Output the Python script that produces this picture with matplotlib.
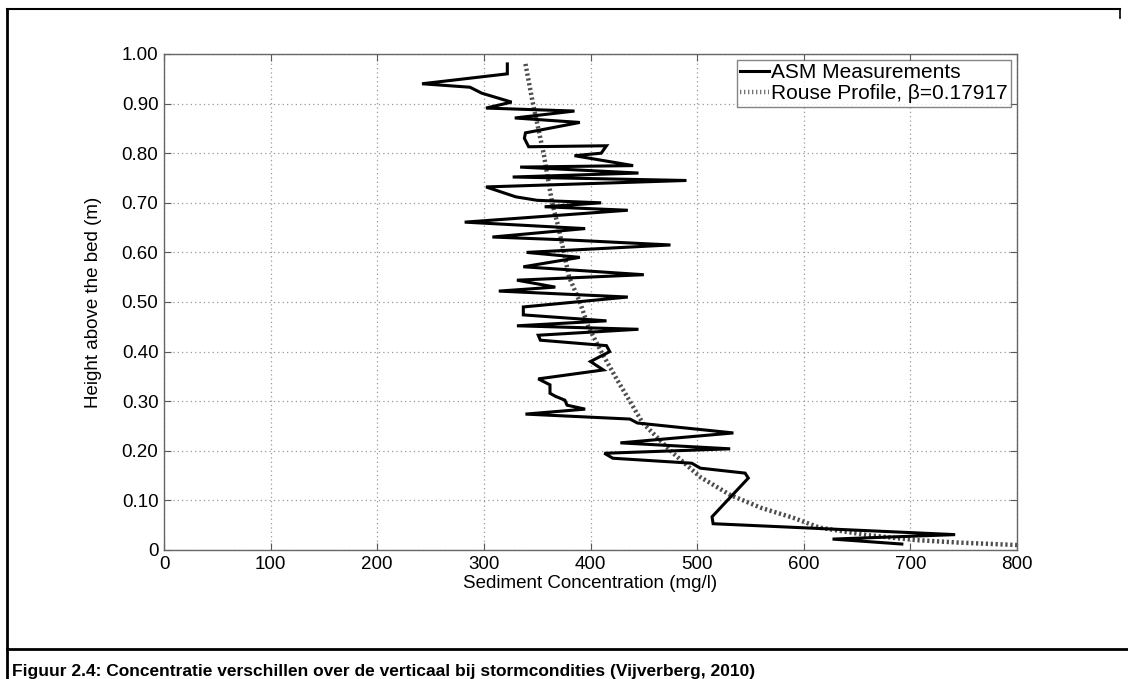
import matplotlib.pyplot as plt
from matplotlib.lines import Line2D

# ASM measurements (concentration mg/l, height m), read top to bottom
asm_conc = [322, 322, 242, 287, 298, 326, 302, 385, 329, 390, 339, 338, 342,
            415, 410, 385, 440, 334, 445, 327, 490, 302, 330, 350, 410, 357,
            435, 282, 395, 308, 380, 475, 340, 390, 337, 450, 331, 367, 314,
            435, 337, 337, 415, 331, 445, 351, 353, 415, 418, 400, 412, 351,
            362, 362, 367, 376, 378, 395, 339, 437, 444, 534, 428, 531, 413,
            421, 495, 503, 545, 548, 514, 515, 742, 627, 692]
asm_height = [0.980, 0.960, 0.940, 0.933, 0.921, 0.903, 0.891, 0.885, 0.871,
              0.862, 0.841, 0.830, 0.813, 0.815, 0.800, 0.795, 0.775, 0.772,
              0.760, 0.752, 0.745, 0.732, 0.712, 0.705, 0.700, 0.692, 0.685,
              0.661, 0.648, 0.631, 0.625, 0.615, 0.600, 0.590, 0.571, 0.555,
              0.544, 0.530, 0.522, 0.510, 0.490, 0.474, 0.462, 0.452, 0.445,
              0.433, 0.423, 0.412, 0.400, 0.380, 0.363, 0.345, 0.333, 0.316,
              0.310, 0.302, 0.292, 0.284, 0.274, 0.264, 0.256, 0.236, 0.216,
              0.204, 0.195, 0.185, 0.175, 0.165, 0.155, 0.145, 0.067, 0.053,
              0.031, 0.022, 0.012]

# Rouse profile
rouse_conc = [339, 346, 356, 364, 370, 380, 390, 398, 410, 425, 449, 477,
              503, 531, 560, 590, 615, 660, 705, 745, 800]
rouse_height = [0.980, 0.900, 0.800, 0.700, 0.650, 0.550, 0.500, 0.450,
                0.400, 0.343, 0.256, 0.196, 0.147, 0.111, 0.085, 0.065,
                0.045, 0.030, 0.020, 0.015, 0.010]

x_ticks = [0, 100, 200, 300, 400, 500, 600, 700, 800]
y_ticks = [0, 0.1, 0.2, 0.3, 0.4, 0.5, 0.6, 0.7, 0.8, 0.9, 1.0]
y_labels = ['0'] + ['%.2f' % v for v in y_ticks[1:]]

plt.rcParams['font.family'] = ['Liberation Sans', 'DejaVu Sans']

fig = plt.figure(figsize=(11.28, 6.79), dpi=100)
ax = fig.add_axes([164 / 1128, 1 - 550 / 679, (1017 - 164) / 1128, (550 - 54) / 679])

ax.plot(rouse_conc, rouse_height, color='0.3', lw=3.2, ls=(0, (0.5, 0.6)),
        label=u'Rouse Profile, \u03b2=0.17917', zorder=2)
ax.plot(asm_conc, asm_height, color='black', lw=2.2, label='ASM Measurements',
        zorder=3, solid_joinstyle='miter')

ax.set_xlim(0, 800)
ax.set_ylim(0, 1.0)
ax.set_xticks(x_ticks)
ax.set_yticks(y_ticks)
ax.set_yticklabels(y_labels)
ax.tick_params(direction='in', length=5, top=True, right=True, labelsize=13.5,
               color='0.35', pad=4)
for s in ax.spines.values():
    s.set_color('0.4')
    s.set_linewidth(1)
ax.grid(True, color='0.6', ls=(0, (1, 2.5)), lw=0.9)

ax.set_xlabel('Sediment Concentration (mg/l)', fontsize=13.5, labelpad=2)
ax.set_ylabel('Height above the bed (m)', fontsize=13.5, labelpad=14)

handles = [Line2D([], [], color='black', lw=2.2),
           Line2D([], [], color='0.45', lw=3.2, ls=(0, (0.3, 0.6)))]
leg = ax.legend(handles, ['ASM Measurements', u'Rouse Profile, \u03b2=0.17917'],
                loc='upper right', fontsize=15, frameon=True, fancybox=False,
                handlelength=1.4, handletextpad=0.1, borderpad=0.15,
                labelspacing=0.1, borderaxespad=0.3)
leg.get_frame().set_edgecolor('0.4')
leg.get_frame().set_linewidth(1)

# surrounding document frame and caption
fig.add_artist(Line2D([7 / 1128, 7 / 1128], [0, 1 - 9 / 679], color='black',
                      lw=2, transform=fig.transFigure))
fig.add_artist(Line2D([7 / 1128, 1120 / 1128], [1 - 9 / 679, 1 - 9 / 679],
                      color='black', lw=1.5, transform=fig.transFigure))
fig.add_artist(Line2D([1120 / 1128, 1120 / 1128], [1 - 9 / 679, 1 - 18 / 679],
                      color='black', lw=1.2, transform=fig.transFigure))
fig.add_artist(Line2D([7 / 1128, 1], [1 - 649 / 679, 1 - 649 / 679],
                      color='black', lw=2, transform=fig.transFigure))
fig.text(12 / 1128, 1 - 676 / 679,
         'Figuur 2.4: Concentratie verschillen over de verticaal bij stormcondities (Vijverberg, 2010)',
         fontsize=12.5, fontweight='bold', va='baseline', ha='left')

fig.savefig('out.png', dpi=100)
